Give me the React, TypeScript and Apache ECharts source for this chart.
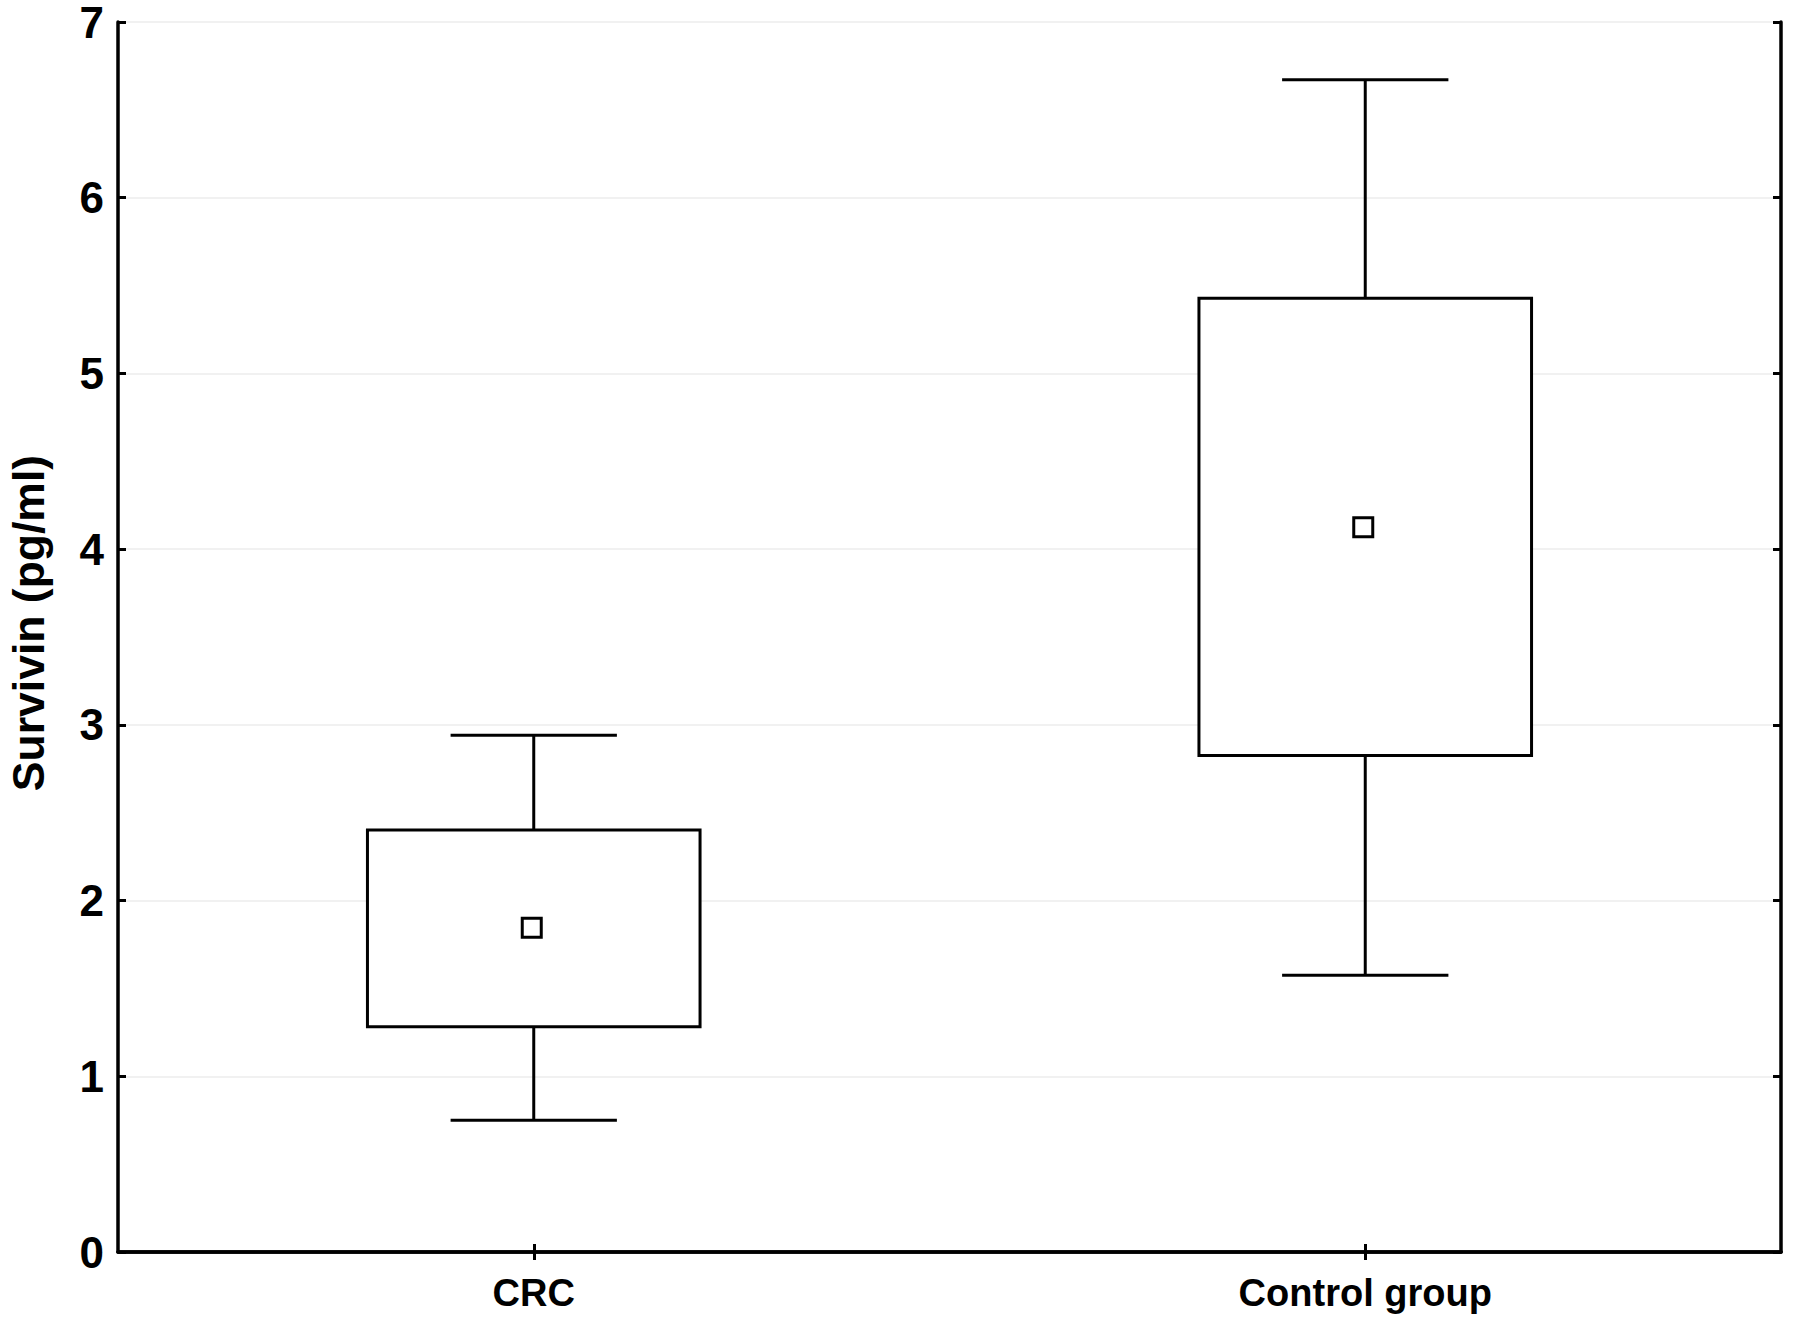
import React, { useEffect, useRef } from "react";
import * as echarts from "echarts";

const categories = ["CRC", "Control group"];
const whiskerLow = [0.75, 1.575];
const boxLow = [1.282, 2.825];
const boxHigh = [2.402, 5.428];
const whiskerHigh = [2.941, 6.672];
const means = [1.846, 4.125];
const yTicks = [0, 1, 2, 3, 4, 5, 6, 7];

const FONT = "'Liberation Sans', Arial, Helvetica, sans-serif";

export default function App() {
  const ref = useRef<HTMLDivElement>(null);
  useEffect(() => {
    if (!ref.current) return;
    const chart = echarts.init(ref.current, undefined, { renderer: "svg" });
    const data = categories.map((_, i) => [
      i,
      whiskerLow[i],
      boxLow[i],
      boxHigh[i],
      whiskerHigh[i],
      means[i],
    ]);
    const lineW = 3;
    const option: any = {
      animation: false,
      backgroundColor: "#ffffff",
      grid: {
        left: 118,
        right: 14,
        top: 22,
        bottom: 74,
        show: false,
      },
      xAxis: [
        {
          type: "category",
          data: categories,
          position: "bottom",
          axisLine: { show: true, lineStyle: { color: "#000", width: 3.5 } },
          axisTick: {
            show: true,
            inside: true,
            alignWithLabel: true,
            length: 8,
            lineStyle: { color: "#000", width: 3 },
          },
          axisLabel: {
            color: "#000",
            fontSize: 38,
            fontWeight: "bold",
            fontFamily: FONT,
            margin: 22,
          },
          splitLine: { show: false },
        },
        {
          type: "category",
          data: categories,
          position: "top",
          axisLine: { show: true, lineStyle: { color: "#000", width: 3.5 } },
          axisTick: {
            show: true,
            inside: true,
            alignWithLabel: true,
            length: 8,
            lineStyle: { color: "#000", width: 3 },
          },
          axisLabel: { show: false },
          splitLine: { show: false },
        },
      ],
      yAxis: [
        {
          type: "value",
          min: yTicks[0],
          max: yTicks[yTicks.length - 1],
          interval: 1,
          position: "left",
          axisLine: { show: true, lineStyle: { color: "#000", width: 3.5 } },
          axisTick: {
            show: true,
            inside: true,
            length: 8,
            lineStyle: { color: "#000", width: 3 },
          },
          axisLabel: {
            color: "#000",
            fontSize: 44,
            lineHeight: 36,
            fontWeight: "bold",
            fontFamily: FONT,
            margin: 14,
          },
          splitLine: { show: true, lineStyle: { color: "#ececec", width: 1.5 } },
        },
        {
          type: "value",
          min: yTicks[0],
          max: yTicks[yTicks.length - 1],
          interval: 1,
          position: "right",
          axisLine: { show: true, lineStyle: { color: "#000", width: 3.5 } },
          axisTick: {
            show: true,
            inside: true,
            length: 8,
            lineStyle: { color: "#000", width: 3 },
          },
          axisLabel: { show: false },
          splitLine: { show: false },
        },
      ],
      graphic: [
        {
          type: "text",
          x: 28,
          y: 623,
          rotation: Math.PI / 2,
          style: {
            text: "Survivin (pg/ml)",
            fontSize: 44.5,
            fontWeight: "bold",
            fontFamily: FONT,
            fill: "#000",
            align: "center",
            verticalAlign: "middle",
          },
        },
      ],
      series: [
        {
          type: "custom",
          xAxisIndex: 0,
          yAxisIndex: 0,
          encode: { x: 0, y: [1, 2, 3, 4, 5] },
          data,
          renderItem: (params: any, api: any) => {
            const xi = api.value(0);
            const band = api.size([1, 0])[0];
            const pLow = api.coord([xi, api.value(1)]);
            const pQ1 = api.coord([xi, api.value(2)]);
            const pQ3 = api.coord([xi, api.value(3)]);
            const pHigh = api.coord([xi, api.value(4)]);
            const pMean = api.coord([xi, api.value(5)]);
            const cx = pLow[0];
            const boxW = band * 0.4;
            const capW = band * 0.2;
            const ls = { stroke: "#000", lineWidth: lineW, fill: null };
            const ms = 19;
            return {
              type: "group",
              children: [
                {
                  type: "line",
                  shape: { x1: cx, y1: pHigh[1], x2: cx, y2: pQ3[1] },
                  style: ls,
                },
                {
                  type: "line",
                  shape: { x1: cx, y1: pQ1[1], x2: cx, y2: pLow[1] },
                  style: ls,
                },
                {
                  type: "line",
                  shape: { x1: cx - capW / 2, y1: pHigh[1], x2: cx + capW / 2, y2: pHigh[1] },
                  style: ls,
                },
                {
                  type: "line",
                  shape: { x1: cx - capW / 2, y1: pLow[1], x2: cx + capW / 2, y2: pLow[1] },
                  style: ls,
                },
                {
                  type: "rect",
                  shape: { x: cx - boxW / 2, y: pQ3[1], width: boxW, height: pQ1[1] - pQ3[1] },
                  style: { stroke: "#000", lineWidth: lineW, fill: "#fff" },
                },
                {
                  type: "rect",
                  shape: { x: cx - ms / 2 - 2, y: pMean[1] - ms / 2, width: ms, height: ms },
                  style: { stroke: "#000", lineWidth: lineW, fill: "#fff" },
                },
              ],
            };
          },
        },
      ],
    };
    chart.setOption(option);
    return () => chart.dispose();
  }, []);
  return (
    <div
      ref={ref}
      style={{ position: "fixed", left: 0, top: 0, width: 1795, height: 1326, background: "#fff" }}
    />
  );
}
